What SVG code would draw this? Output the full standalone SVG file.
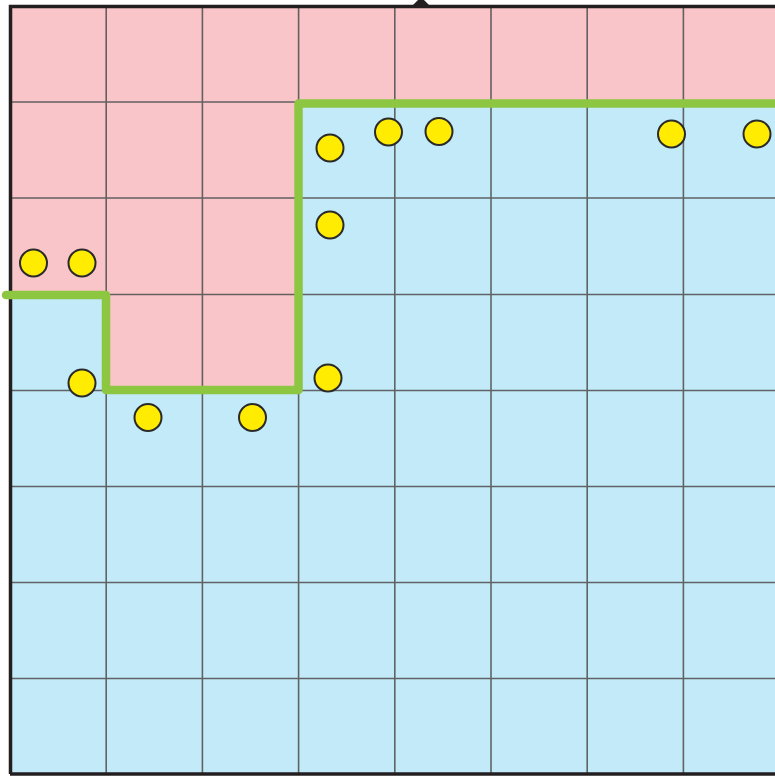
<svg xmlns="http://www.w3.org/2000/svg" width="775" height="776" viewBox="0 0 775 776">
  <style>
    .grid { stroke: #555555; stroke-width: 1.6; fill: none; opacity: 0.9; }
    .dot { fill: #FFEC00; stroke: #2a2a2a; stroke-width: 2; }
    .border { stroke: #231f20; stroke-width: 3.5; fill: none; }
  </style>
  <rect x="0" y="0" width="775" height="776" fill="#ffffff"/>
  <g id="regions">
    <rect x="10" y="6" width="770" height="768" fill="#C2EAF8"/>
    <polygon points="10,6 780,6 780,103 299,103 299,390 106,390 106,294 10,294" fill="#F9C5C8"/>
  </g>
  <g id="grid" class="grid">
    <line x1="106.2" y1="6" x2="106.2" y2="774"/>
    <line x1="202.4" y1="6" x2="202.4" y2="774"/>
    <line x1="298.6" y1="6" x2="298.6" y2="774"/>
    <line x1="394.8" y1="6" x2="394.8" y2="774"/>
    <line x1="491" y1="6" x2="491" y2="774"/>
    <line x1="587.2" y1="6" x2="587.2" y2="774"/>
    <line x1="683.4" y1="6" x2="683.4" y2="774"/>
    <line x1="10" y1="102" x2="780" y2="102"/>
    <line x1="10" y1="198" x2="780" y2="198"/>
    <line x1="10" y1="294.5" x2="780" y2="294.5"/>
    <line x1="10" y1="390.5" x2="780" y2="390.5"/>
    <line x1="10" y1="486.5" x2="780" y2="486.5"/>
    <line x1="10" y1="582.5" x2="780" y2="582.5"/>
    <line x1="10" y1="678.5" x2="780" y2="678.5"/>
  </g>
  <g id="frame">
    <polyline class="border" points="10.5,774 10.5,6.5 780,6.5"/>
    <line class="border" x1="10" y1="774" x2="780" y2="774" stroke-width="4"/>
    <polygon points="411,7 431,7 424,0 418,0" fill="#231f20"/>
  </g>
  <g id="connectors">
    <polyline points="6,295 106,295 106,390 298.5,390 298.5,103.5 780,103.5" fill="none" stroke="#8DC641" stroke-width="8.5" stroke-linejoin="round" stroke-linecap="round"/>
  </g>
  <g id="dots">
    <circle id="d1" class="dot" cx="330" cy="148" r="13.5"/>
    <circle id="d2" class="dot" cx="388.5" cy="132" r="13.5"/>
    <circle id="d3" class="dot" cx="439" cy="131.5" r="13.5"/>
    <circle id="d4" class="dot" cx="671.5" cy="134" r="13.5"/>
    <circle id="d5" class="dot" cx="757" cy="134" r="13.5"/>
    <circle id="d6" class="dot" cx="330" cy="225" r="13.5"/>
    <circle id="d7" class="dot" cx="33.5" cy="263" r="13.5"/>
    <circle id="d8" class="dot" cx="82" cy="263" r="13.5"/>
    <circle id="d9" class="dot" cx="82" cy="383" r="13.5"/>
    <circle id="d10" class="dot" cx="328" cy="378" r="13.5"/>
    <circle id="d11" class="dot" cx="148" cy="417.5" r="13.5"/>
    <circle id="d12" class="dot" cx="252.5" cy="417.5" r="13.5"/>
  </g>
</svg>
